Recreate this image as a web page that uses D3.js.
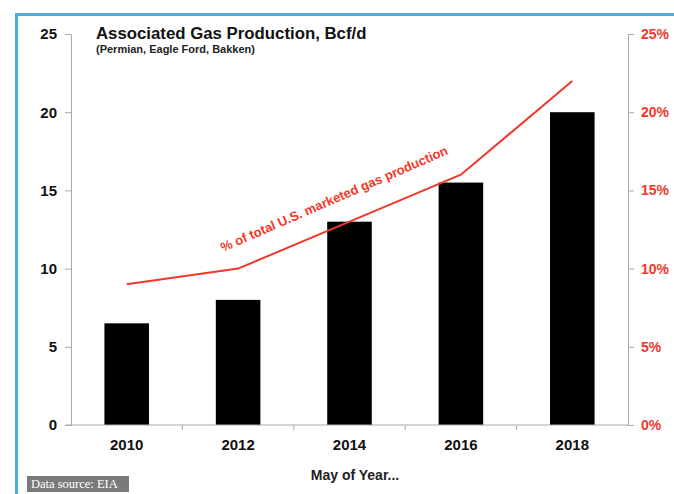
<!DOCTYPE html>
<html>
<head>
<meta charset="utf-8">
<script src="https://d3js.org/d3.v7.min.js"></script>
<style>
  body { margin: 0; background: #fff; }
  svg { display: block; font-family: "Liberation Sans", Arial, sans-serif; }
</style>
</head>
<body>
<svg width="674" height="494"></svg>
<script>
// data
const years = ["2010", "2012", "2014", "2016", "2018"];
const gasBcfd = [6.5, 8, 13, 15.5, 20];          // bars, left axis
const shareOfUS = [9, 10, 13, 16, 22];             // line, right axis (%)
const leftTicks = [0, 5, 10, 15, 20, 25];
const rightTicks = [0, 5, 10, 15, 20, 25];

const red = "#f2382b";
const svg = d3.select("svg");

let margin = { top: 34, left: 71, right: 46, bottom: 69 };
let width = 674 - margin.left - margin.right;
let height = 494 - margin.top - margin.bottom;

// blue frame
svg.append("rect").attr("x", 15).attr("y", 13).attr("width", 674).attr("height", 3).style("fill", "#4bace3");
svg.append("rect").attr("x", 15).attr("y", 13).attr("width", 3).attr("height", 494).style("fill", "#4bace3");

let g = svg.append("g").attr("transform", "translate(" + margin.left + "," + margin.top + ")");

let xScale = d3.scaleBand().domain(years).range([0, width]).paddingInner(0.6).paddingOuter(0.3);
let yLeft = d3.scaleLinear().domain([0, 25]).range([height, 0]);
let yRight = d3.scaleLinear().domain([0, 25]).range([height, 0]);

// bars
g.selectAll(".bar")
  .data(years)
  .enter().append("rect")
  .attr("class", "bar")
  .attr("x", d => xScale(d))
  .attr("width", xScale.bandwidth())
  .attr("y", (d, i) => yLeft(gasBcfd[i]))
  .attr("height", (d, i) => height - yLeft(gasBcfd[i]))
  .style("fill", "#000");

// left axis
let leftAxis = g.append("g").call(d3.axisLeft(yLeft).tickValues(leftTicks).tickSize(6).tickPadding(8));
leftAxis.select(".domain").attr("stroke", "#aaa");
leftAxis.selectAll(".tick line").attr("stroke", "#aaa");
leftAxis.selectAll("text").style("font-size", "15px").style("font-weight", "bold").style("fill", "#111");

// right axis
let rightAxis = g.append("g").attr("transform", "translate(" + width + ",0)")
  .call(d3.axisRight(yRight).tickValues(rightTicks).tickSize(6).tickPadding(7).tickFormat(d => d + "%"));
rightAxis.select(".domain").attr("stroke", "#aaa");
rightAxis.selectAll(".tick line").attr("stroke", "#aaa");
rightAxis.selectAll("text").style("font-size", "14px").style("font-weight", "bold").style("fill", red);

// x axis: labels at band centres, ticks at band boundaries
let xAxis = g.append("g").attr("transform", "translate(0," + height + ")")
  .call(d3.axisBottom(xScale).tickSize(0).tickPadding(14));
xAxis.select(".domain").attr("stroke", "#aaa").attr("d", "M-6,0H" + width);
xAxis.selectAll("text").style("font-size", "15px").style("font-weight", "bold").style("fill", "#111");
let gap = (xScale.step() - xScale.bandwidth()) / 2;
g.selectAll(".xtick")
  .data(years.slice(1))
  .enter().append("line")
  .attr("class", "xtick")
  .attr("x1", d => xScale(d) - gap)
  .attr("x2", d => xScale(d) - gap)
  .attr("y1", height)
  .attr("y2", height + 5)
  .attr("stroke", "#aaa");

// red line
let line = d3.line()
  .x((d, i) => xScale(years[i]) + xScale.bandwidth() / 2)
  .y(d => yRight(d));
g.append("path")
  .datum(shareOfUS)
  .attr("d", line)
  .style("fill", "none")
  .style("stroke", red)
  .style("stroke-width", 2);

// line label
svg.append("text")
  .attr("transform", "translate(223,252) rotate(-23.5)")
  .style("font-size", "13px")
  .style("font-weight", "bold")
  .style("fill", red)
  .text("% of total U.S. marketed gas production");

// titles
svg.append("text").attr("x", 96).attr("y", 39)
  .style("font-size", "16.8px").style("font-weight", "bold").style("fill", "#111")
  .text("Associated Gas Production, Bcf/d");
svg.append("text").attr("x", 96).attr("y", 53)
  .style("font-size", "11px").style("font-weight", "bold").style("fill", "#222")
  .text("(Permian, Eagle Ford, Bakken)");

svg.append("text").attr("x", 355).attr("y", 480).attr("text-anchor", "middle")
  .style("font-family", "'Liberation Sans Narrow', 'Arial Narrow', sans-serif")
  .style("font-size", "14px").style("font-weight", "bold").style("fill", "#222")
  .text("May of Year...");

// data source tag
svg.append("rect").attr("x", 27).attr("y", 476).attr("width", 102).attr("height", 16).style("fill", "#7a7a7a");
svg.append("text").attr("x", 31).attr("y", 488)
  .style("font-family", "'Liberation Serif', 'DejaVu Serif', serif")
  .style("font-size", "12.5px").style("fill", "#fff")
  .text("Data source: EIA");
</script>
</body>
</html>
